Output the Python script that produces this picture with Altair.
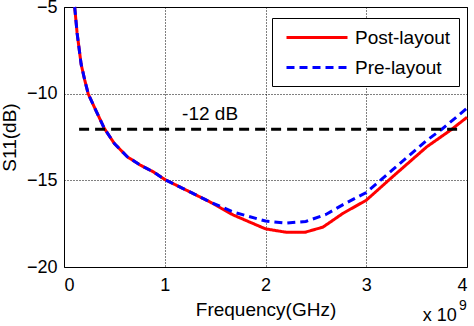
import altair as alt
import pandas as pd

# ---- data ----
common_x = [0.106, 0.13, 0.17, 0.205, 0.24, 0.315, 0.40, 0.50, 0.63, 0.76, 0.89, 1.0, 1.25, 1.45]
common_y = [-5.0, -6.5, -8.3, -9.2, -10.0, -10.95, -12.0, -12.88, -13.65, -14.13, -14.52, -14.95, -15.67, -16.25]

post_x = [1.68, 2.0, 2.21, 2.39, 2.57, 2.77, 3.0, 3.26, 3.6, 3.85, 4.0]
post_y = [-17.0, -17.8, -18.0, -18.0, -17.7, -16.9, -16.15, -14.8, -13.07, -12.05, -11.36]

pre_x = [1.68, 2.0, 2.21, 2.4, 2.6, 2.77, 3.0, 3.26, 3.6, 3.75, 4.0]
pre_y = [-16.83, -17.35, -17.47, -17.37, -16.97, -16.4, -15.7, -14.4, -12.7, -12.05, -10.84]

series = ["Post-layout", "Pre-layout"]
colors = ["#ff0000", "#0000ff"]
dashes = [[1, 0], [8, 5]]

thr_x = [0.15, 3.91]
thr_y = [-12.05, -12.05]
thr_label = "-12 dB"

rows = []
for x, y in zip(common_x + post_x, common_y + post_y):
    rows.append({"f": x, "s11": y, "series": series[0]})
for x, y in zip(common_x + pre_x, common_y + pre_y):
    rows.append({"f": x, "s11": y, "series": series[1]})
df = pd.DataFrame(rows)
thr = pd.DataFrame({"f": thr_x, "s11": thr_y})

FONT = "Liberation Sans"

xscale = alt.Scale(domain=[0, 4], nice=False)
yscale = alt.Scale(domain=[-20, -5], nice=False)

leg = dict(title=None, orient="none", legendX=208, legendY=11,
           symbolType="M-0.5,0H5.6", symbolSize=400,
           symbolStrokeWidth=3, labelFontSize=19, labelFont=FONT, labelColor="black",
           fillColor="white", strokeColor="black", padding=8,
           rowPadding=8, labelOffset=52)

lines = alt.Chart(df).mark_line(strokeWidth=3).encode(
    x=alt.X("f:Q", scale=xscale,
            axis=alt.Axis(title="Frequency(GHz)", values=[0, 1, 2, 3, 4], format="d")),
    y=alt.Y("s11:Q", scale=yscale,
            axis=alt.Axis(title="S11(dB)", values=[-20, -15, -10, -5], format="d")),
    color=alt.Color("series:N", scale=alt.Scale(domain=series, range=colors),
                    legend=alt.Legend(**leg)),
    strokeDash=alt.StrokeDash("series:N", scale=alt.Scale(domain=series, range=dashes),
                              legend=alt.Legend(**leg)),
    detail="series:N",
)

threshold = alt.Chart(thr).mark_line(color="black", strokeWidth=3, strokeDash=[10, 6]).encode(
    x=alt.X("f:Q", scale=xscale), y=alt.Y("s11:Q", scale=yscale)
)

label = alt.Chart(pd.DataFrame({"f": [1.45], "s11": [-11.2], "t": [thr_label]})).mark_text(
    font=FONT, fontSize=19, color="black"
).encode(x=alt.X("f:Q", scale=xscale), y=alt.Y("s11:Q", scale=yscale), text="t:N")

exp_base = alt.Chart(pd.DataFrame({"f": [3.73], "s11": [-20.0], "t": ["x 10"]})).mark_text(
    font=FONT, fontSize=18, color="black", dy=49
).encode(x=alt.X("f:Q", scale=xscale), y=alt.Y("s11:Q", scale=yscale), text="t:N")

exp_sup = alt.Chart(pd.DataFrame({"f": [3.96], "s11": [-20.0], "t": ["9"]})).mark_text(
    font=FONT, fontSize=14, color="black", dy=39
).encode(x=alt.X("f:Q", scale=xscale), y=alt.Y("s11:Q", scale=yscale), text="t:N")

chart = alt.layer(lines, threshold, label, exp_base, exp_sup).properties(
    width=403, height=260,
    background="white",
    autosize=alt.AutoSizeParams(type="none"),
    padding={"left": 64, "top": 7, "right": 7, "bottom": 59},
).configure_view(
    stroke="black", strokeWidth=1
).configure_axis(
    grid=True, gridColor="black", gridDash=[1, 2], gridWidth=1, gridOpacity=1,
    domain=False, ticks=False,
    labelFont=FONT, labelFontSize=18, labelColor="black",
    titleFont=FONT, titleFontSize=19, titleFontWeight="normal", titleColor="black",
).configure_axisX(
    labelPadding=9, titlePadding=6
).configure_axisY(
    labelPadding=7, titlePadding=7
)

chart.save("out.html", embed_options={"renderer": "svg", "actions": False})
